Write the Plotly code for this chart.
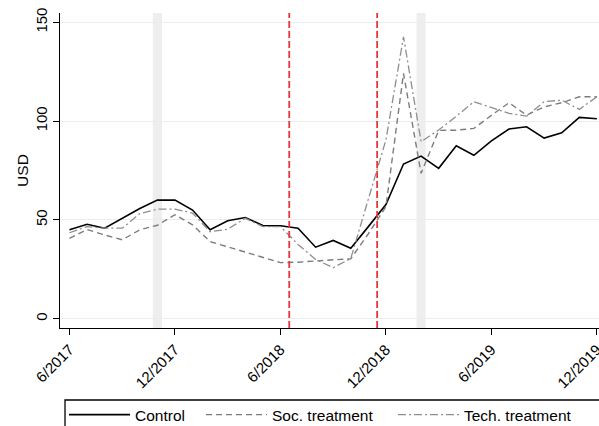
import plotly.graph_objects as go

# month index 0 = 6/2017 ... 30 = 12/2019
months = list(range(31))
tick_vals = [0, 6, 12, 18, 24, 30]
tick_labels = ["6/2017", "12/2017", "6/2018", "12/2018", "6/2019", "12/2019"]

control = [45.0, 47.8, 45.8, 50.6, 55.8, 60.0, 60.0, 55.0, 45.0, 49.6, 51.2, 47.2, 47.0, 45.8,
           36.2, 39.6, 35.7, 46.6, 57.8, 78.3, 82.3, 76.1, 87.5, 82.7, 90.0, 96.0, 97.1, 91.4,
           94.1, 101.9, 101.2]
soc = [40.7, 45.1, 42.4, 39.9, 45.0, 47.3, 52.6, 47.5, 39.0, 36.4, 33.7, 31.1, 28.4, 28.6,
       29.3, 29.8, 30.3, 43.0, 56.7, 124.1, 73.6, 95.3, 95.4, 96.3, 102.9, 109.3, 103.0, 107.2,
       109.3, 112.3, 112.3]
tech = [43.5, 46.6, 45.8, 45.8, 53.2, 55.5, 55.5, 53.4, 44.0, 45.3, 50.8, 46.6, 46.6, 37.6,
        30.0, 25.8, 30.5, 60.0, 90.5, 142.6, 89.6, 95.5, 102.4, 109.8, 106.8, 103.9, 102.5,
        109.8, 110.6, 105.9, 112.3]

treatment_events = [12.5, 17.5]   # red dashed vertical lines
highlight_months = [5, 20]        # grey shaded months
highlight_halfwidth = 0.26

FONT = "Arial, Liberation Sans, sans-serif"

fig = go.Figure()
fig.add_trace(go.Scatter(x=months, y=control, name="Control", mode="lines", legend="legend",
                         line=dict(color="black", width=1.6)))
fig.add_trace(go.Scatter(x=months, y=soc, name="Soc. treatment", mode="lines", legend="legend2",
                         line=dict(color="#7c7c7c", width=1.4, dash="6px,4px")))
fig.add_trace(go.Scatter(x=months, y=tech, name="Tech. treatment", mode="lines", legend="legend3",
                         line=dict(color="#8e8e8e", width=1.3, dash="8px,3px,2px,3px")))

shapes = []
for m in highlight_months:
    shapes.append(dict(type="rect", xref="x", yref="paper", x0=m - highlight_halfwidth,
                       x1=m + highlight_halfwidth, y0=0, y1=1, fillcolor="#eeeeee",
                       line=dict(width=0), layer="below"))
for e in treatment_events:
    shapes.append(dict(type="line", xref="x", yref="paper", x0=e, x1=e, y0=0, y1=1,
                       line=dict(color="#e8343a", width=1.8, dash="7px,3px"), layer="above"))
# legend frame
shapes.append(dict(type="rect", xref="paper", yref="paper", x0=0.0093, x1=1.2,
                   y0=-0.60, y1=-0.2286, line=dict(color="black", width=1.3),
                   fillcolor="rgba(0,0,0,0)", layer="above"))

def leg(xpx):
    return dict(orientation="h", x=(xpx - 60) / 539, xanchor="left", y=-0.2225, yanchor="top",
                font=dict(size=15.5), itemwidth=61, bgcolor="rgba(0,0,0,0)")

fig.update_layout(
    width=599, height=426,
    margin=dict(l=60, r=0, t=13, b=98, autoexpand=False),
    paper_bgcolor="white", plot_bgcolor="white",
    font=dict(family=FONT, size=15, color="black"),
    shapes=shapes,
    showlegend=True,
    legend=leg(64), legend2=leg(201), legend3=leg(393),
    xaxis=dict(range=[-0.54, 30.12], tickmode="array", tickvals=tick_vals,
               ticktext=tick_labels, tickangle=-45, ticks="outside", ticklen=6,
               tickwidth=1.2, tickcolor="black", showline=True, linecolor="black",
               linewidth=1.3, showgrid=False, zeroline=False, tickfont=dict(size=15),
               automargin=False, ticklabeloverflow="allow"),
    yaxis=dict(range=[-4.7, 154.7], tickmode="array", tickvals=[0, 50, 100, 150],
               tickangle=-90, ticks="outside", ticklen=6, tickwidth=1.2, tickcolor="black",
               showline=True, linecolor="black", linewidth=1.3, showgrid=True,
               gridcolor="#e6eef0", gridwidth=1, zeroline=False, tickfont=dict(size=15),
               title=dict(text="USD", font=dict(size=15.5), standoff=0), automargin=False),
)

fig.write_html("out.html", config={"displayModeBar": False},
               post_script="document.body.style.margin='0';document.body.style.overflow='hidden';")
